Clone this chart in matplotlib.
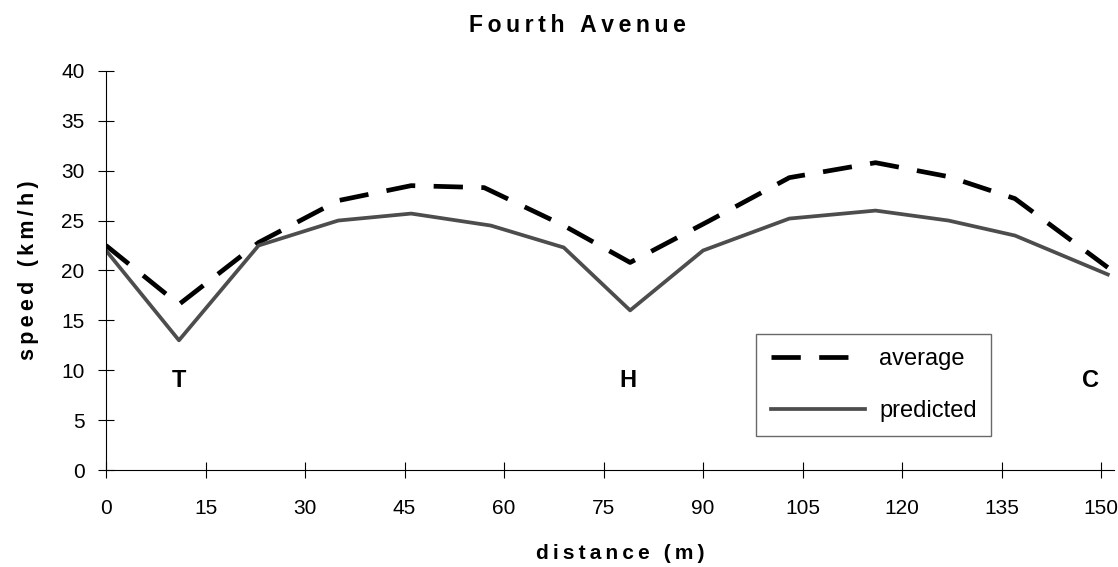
import matplotlib.pyplot as plt

plt.rcParams['font.family'] = ['Liberation Sans', 'DejaVu Sans']

avg_x = [0, 11, 23, 35, 46, 57, 69, 79, 91, 103, 116, 127, 137, 151]
avg_y = [22.5, 16.6, 22.8, 27.0, 28.5, 28.3, 24.5, 20.8, 25.0, 29.3, 30.8, 29.4, 27.2, 20.3]

pred_x = [0, 11, 23, 35, 46, 58, 69, 79, 90, 103, 116, 127, 137, 151]
pred_y = [22.0, 13.0, 22.5, 25.0, 25.7, 24.5, 22.3, 16.0, 22.0, 25.2, 26.0, 25.0, 23.5, 19.6]

x_ticks = [0, 15, 30, 45, 60, 75, 90, 105, 120, 135, 150]
y_ticks = [0, 5, 10, 15, 20, 25, 30, 35, 40]

sites = ["T", "H", "C"]
site_x = [11, 78.7, 148.4]
site_y = [9.0, 9.0, 9.0]


def spaced(s):
    # the scan has wide letter tracking, fake it with thin spaces
    return "\u2009".join(s)


fig = plt.figure(figsize=(11.18, 5.67), dpi=100)
ax = fig.add_axes([0.0948, 0.171, 0.902, 0.704])

ax.plot(avg_x, avg_y, color="black", lw=3.4, dashes=(6.2, 3.9), label="average")
ax.plot(pred_x, pred_y, color="#4d4d4d", lw=2.7, label="predicted")

for s, sx, sy in zip(sites, site_x, site_y):
    ax.text(sx, sy, s, ha="center", va="center", fontsize=17, fontweight="bold")

ax.set_xlim(0, 152)
ax.set_ylim(0, 40)
ax.set_xticks(x_ticks)
ax.set_yticks(y_ticks)
ax.tick_params(direction="inout", length=11, width=0.8, labelsize=15)
ax.tick_params(axis="x", pad=15)
ax.tick_params(axis="y", pad=10)
ax.spines["top"].set_visible(False)
ax.spines["right"].set_visible(False)

ax.set_xlabel(spaced("distance (m)"), fontsize=15, fontweight="bold", labelpad=19, x=0.51)
ax.set_ylabel(spaced("speed (km/h)"), fontsize=15.5, fontweight="bold", labelpad=16)
ax.set_title(spaced("Fourth Avenue"), fontsize=16.5, fontweight="bold", pad=28, x=0.468)

leg = ax.legend(loc="lower left", bbox_to_anchor=(0.645, 0.085), borderaxespad=0,
                handlelength=4.0, fontsize=17, frameon=True, fancybox=False,
                edgecolor="#444444", borderpad=0.6, labelspacing=1.25,
                handletextpad=0.6)
leg.get_frame().set_linewidth(1.0)

fig.savefig("out.png", dpi=100)
